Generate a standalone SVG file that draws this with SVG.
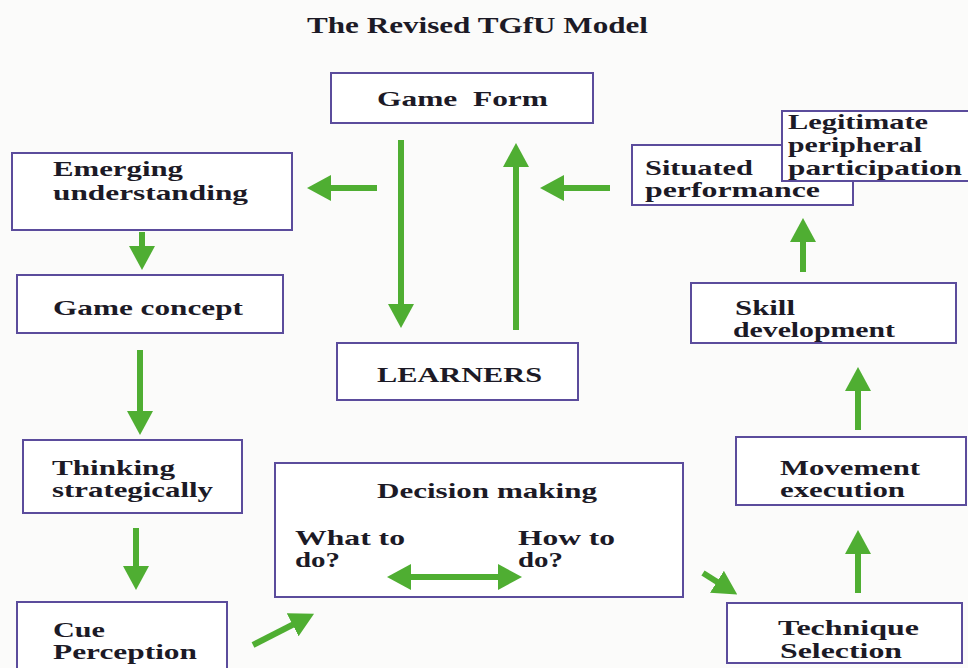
<svg xmlns="http://www.w3.org/2000/svg" width="968" height="668" viewBox="0 0 968 668">
  <defs>
    <style>
      .box { fill: #ffffff; stroke: #5b4c9c; stroke-width: 2; }
      .lbl { font-family: "Liberation Serif", "Times New Roman", serif; font-weight: bold; font-size: 21px; fill: #1c1a26; }
      .title { font-family: "Liberation Serif", "Times New Roman", serif; font-weight: bold; font-size: 23px; fill: #1c1a26; }
      .arr { stroke: #4fae32; stroke-width: 6; fill: none; marker-end: url(#head); }
      .arr2 { stroke: #4fae32; stroke-width: 6; fill: none; marker-end: url(#head); marker-start: url(#head); }
    </style>
    <marker id="head" viewBox="0 0 24 26" refX="6" refY="13" markerWidth="24" markerHeight="26" markerUnits="userSpaceOnUse" orient="auto-start-reverse">
      <path d="M0,0 L24,13 L0,26 Z" fill="#4fae32"/>
    </marker>
  </defs>

  <rect x="0" y="0" width="968" height="668" fill="#fbfbfa"/>

  <text class="title" x="307" y="33" textLength="341" lengthAdjust="spacingAndGlyphs">The Revised TGfU Model</text>

  <g id="game-form">
    <rect class="box" x="331" y="73" width="262" height="50"/>
    <text class="lbl" x="377" y="106" textLength="171" lengthAdjust="spacingAndGlyphs" xml:space="preserve">Game  Form</text>
  </g>

  <g id="learners">
    <rect class="box" x="337" y="343" width="241" height="57"/>
    <text class="lbl" x="377" y="382" textLength="165" lengthAdjust="spacingAndGlyphs">LEARNERS</text>
  </g>

  <g id="emerging-understanding">
    <rect class="box" x="12" y="153" width="280" height="77"/>
    <text class="lbl" x="53" y="176" textLength="130" lengthAdjust="spacingAndGlyphs">Emerging</text>
    <text class="lbl" x="53" y="200" textLength="195" lengthAdjust="spacingAndGlyphs">understanding</text>
  </g>

  <g id="game-concept">
    <rect class="box" x="17" y="275" width="266" height="58"/>
    <text class="lbl" x="53" y="315" textLength="190" lengthAdjust="spacingAndGlyphs">Game concept</text>
  </g>

  <g id="thinking-strategically">
    <rect class="box" x="23" y="440" width="219" height="73"/>
    <text class="lbl" x="52" y="475" textLength="123" lengthAdjust="spacingAndGlyphs">Thinking</text>
    <text class="lbl" x="52" y="497" textLength="161" lengthAdjust="spacingAndGlyphs">strategically</text>
  </g>

  <g id="cue-perception">
    <rect class="box" x="17" y="602" width="210" height="80"/>
    <text class="lbl" x="53" y="637" textLength="52" lengthAdjust="spacingAndGlyphs">Cue</text>
    <text class="lbl" x="53" y="659" textLength="144" lengthAdjust="spacingAndGlyphs">Perception</text>
  </g>

  <g id="decision-making">
    <rect class="box" x="275" y="463" width="408" height="134"/>
    <text class="lbl" x="377" y="498" textLength="220" lengthAdjust="spacingAndGlyphs">Decision making</text>
    <text class="lbl" x="295" y="545" textLength="110" lengthAdjust="spacingAndGlyphs">What to</text>
    <text class="lbl" x="295" y="567" textLength="45" lengthAdjust="spacingAndGlyphs">do?</text>
    <text class="lbl" x="518" y="545" textLength="97" lengthAdjust="spacingAndGlyphs">How to</text>
    <text class="lbl" x="518" y="567" textLength="45" lengthAdjust="spacingAndGlyphs">do?</text>
  </g>

  <g id="situated-performance">
    <rect class="box" x="632" y="145" width="221" height="60"/>
    <text class="lbl" x="645" y="175" textLength="108" lengthAdjust="spacingAndGlyphs">Situated</text>
    <text class="lbl" x="645" y="197" textLength="175" lengthAdjust="spacingAndGlyphs">performance</text>
  </g>

  <g id="legitimate-peripheral-participation">
    <rect class="box" x="782" y="111" width="190" height="70"/>
    <text class="lbl" x="788" y="129" textLength="140" lengthAdjust="spacingAndGlyphs">Legitimate</text>
    <text class="lbl" x="788" y="152" textLength="134" lengthAdjust="spacingAndGlyphs">peripheral</text>
    <text class="lbl" x="788" y="175" textLength="174" lengthAdjust="spacingAndGlyphs">participation</text>
  </g>

  <g id="skill-development">
    <rect class="box" x="691" y="283" width="265" height="60"/>
    <text class="lbl" x="735" y="315" textLength="60" lengthAdjust="spacingAndGlyphs">Skill</text>
    <text class="lbl" x="733" y="337" textLength="162" lengthAdjust="spacingAndGlyphs">development</text>
  </g>

  <g id="movement-execution">
    <rect class="box" x="736" y="437" width="230" height="68"/>
    <text class="lbl" x="780" y="475" textLength="140" lengthAdjust="spacingAndGlyphs">Movement</text>
    <text class="lbl" x="780" y="497" textLength="125" lengthAdjust="spacingAndGlyphs">execution</text>
  </g>

  <g id="technique-selection">
    <rect class="box" x="727" y="603" width="235" height="60"/>
    <text class="lbl" x="778" y="635" textLength="141" lengthAdjust="spacingAndGlyphs">Technique</text>
    <text class="lbl" x="780" y="658" textLength="122" lengthAdjust="spacingAndGlyphs">Selection</text>
  </g>

  <!-- connectors, drawn last so the arrow inside Decision making stays visible -->
  <g id="connectors">
    <line class="arr" x1="401" y1="140" x2="401" y2="310"/>
    <line class="arr" x1="516" y1="330" x2="516" y2="161"/>
    <line class="arr" x1="377" y1="188" x2="325" y2="188"/>
    <line class="arr" x1="610" y1="188" x2="558" y2="188"/>
    <line class="arr" x1="142" y1="232" x2="142" y2="252"/>
    <line class="arr" x1="140" y1="350" x2="140" y2="417"/>
    <line class="arr" x1="136" y1="528" x2="136" y2="572"/>
    <line class="arr" x1="253" y1="645" x2="298" y2="622"/>
    <line class="arr2" x1="405" y1="577" x2="504" y2="577"/>
    <line class="arr" x1="703" y1="573" x2="722" y2="585"/>
    <line class="arr" x1="858" y1="593" x2="858" y2="548"/>
    <line class="arr" x1="858" y1="430" x2="858" y2="385"/>
    <line class="arr" x1="803" y1="272" x2="803" y2="236"/>
  </g>
</svg>
